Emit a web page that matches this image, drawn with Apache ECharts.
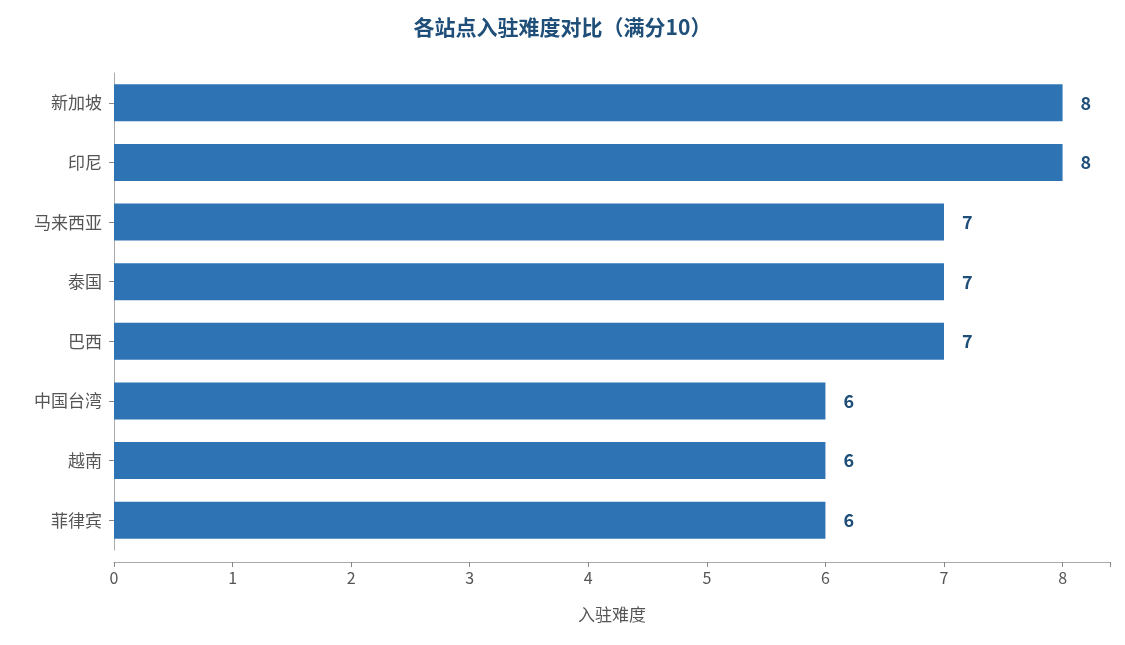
<!DOCTYPE html>
<html>
<head>
<meta charset="utf-8">
<script src="https://cdn.jsdelivr.net/npm/echarts@6/dist/echarts.min.js"></script>
<style>html,body{margin:0;padding:0;background:#fff}#main{width:1125px;height:645px}</style>
</head>
<body>
<div id="main"></div>
<script>
var sites = ['新加坡', '印尼', '马来西亚', '泰国', '巴西', '中国台湾', '越南', '菲律宾'];
var difficulty = [8, 8, 7, 7, 7, 6, 6, 6];
var xTicks = [0, 1, 2, 3, 4, 5, 6, 7, 8];

var font = '"Noto Sans CJK SC", "Noto Sans", sans-serif';
var myChart = echarts.init(document.getElementById('main'));
myChart.setOption({
    backgroundColor: '#fff',
    textStyle: { fontFamily: font },
    title: {
        text: '各站点入驻难度对比（满分10）',
        left: 'center',
        top: 12,
        textStyle: { fontSize: 21, fontWeight: 'bold', color: '#1f4e79', fontFamily: font }
    },
    grid: { left: 114, right: 15, top: 73, bottom: 95 },
    xAxis: {
        type: 'value',
        min: 0,
        max: 8.4,
        interval: 1,
        offset: 12,
        name: '入驻难度',
        nameLocation: 'middle',
        nameGap: 44,
        nameTextStyle: { fontSize: 17, color: '#555' },
        axisLine: { show: true, lineStyle: { color: '#aaa' } },
        axisTick: { show: true, lineStyle: { color: '#888' } },
        axisLabel: {
            fontSize: 16, color: '#555',
            formatter: function (v) { return xTicks.indexOf(v) >= 0 ? String(v) : ''; }
        },
        splitLine: { show: false }
    },
    yAxis: {
        type: 'category',
        inverse: true,
        data: sites,
        axisLine: { show: true, lineStyle: { color: '#aaa' } },
        axisTick: { show: true, alignWithLabel: true, lineStyle: { color: '#888' } },
        axisLabel: { fontSize: 17, color: '#555', margin: 12 }
    },
    series: [{
        type: 'bar',
        data: difficulty,
        barWidth: '62%',
        itemStyle: { color: '#2e74b5' },
        label: {
            show: true,
            position: 'right',
            distance: 18,
            fontSize: 18,
            fontWeight: 'bold',
            color: '#1f4e79'
        }
    }]
});
</script>
</body>
</html>
